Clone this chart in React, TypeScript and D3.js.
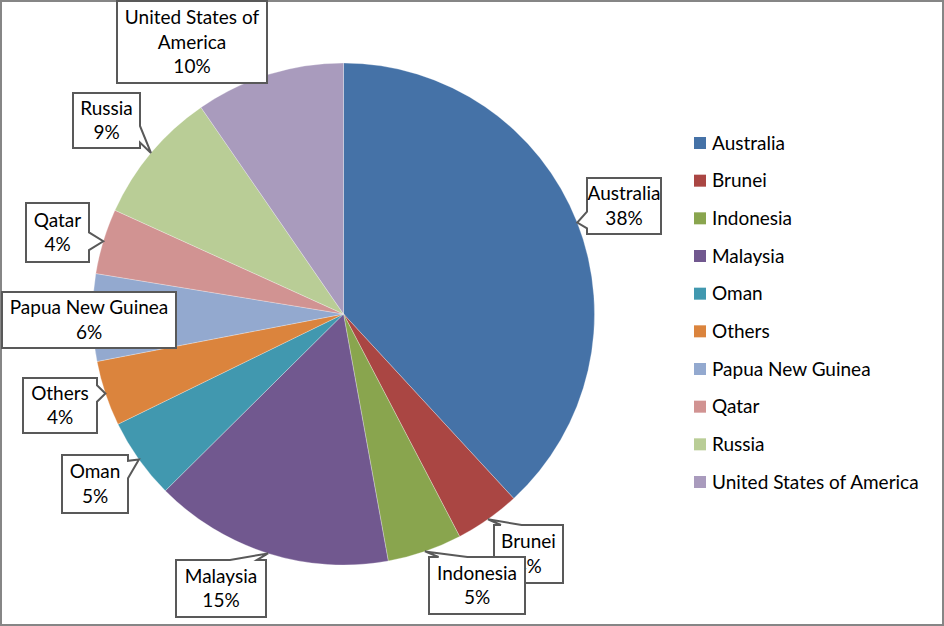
import React from "react";
import * as d3 from "d3";

const categories = [
  "Australia",
  "Brunei",
  "Indonesia",
  "Malaysia",
  "Oman",
  "Others",
  "Papua New Guinea",
  "Qatar",
  "Russia",
  "United States of America",
];
const shares = [38.1, 4.2, 4.8, 15.4, 5.2, 4.2, 5.6, 4.2, 8.6, 9.6];
const colors = [
  "#4572A7",
  "#AA4643",
  "#89A54E",
  "#71588F",
  "#4198AF",
  "#DB843D",
  "#93A9CF",
  "#D19392",
  "#B9CD96",
  "#A99BBD",
];
// label box layout [x, y, w, h]
const labelBoxes: [number, number, number, number][] = [
  [587, 178, 74, 56],
  [494, 525, 69, 58],
  [429, 557, 96, 57],
  [176, 560, 90, 57],
  [62, 455, 66, 58],
  [23, 378, 74, 55],
  [2, 292, 174, 56],
  [26, 203, 63, 59],
  [73, 93, 67, 55],
  [117, 1, 150, 82],
];

const W = 944;
const H = 626;
const CX = 343.5;
const CY = 314;
const R = 251;
const FONT = "Lato, 'Open Sans', sans-serif";
const FS = 19;
const LH = 24.5;

let ctx: CanvasRenderingContext2D | null = null;
function measure(s: string) {
  if (!ctx) {
    const c = document.createElement("canvas");
    ctx = c.getContext("2d");
  }
  if (!ctx) return s.length * FS * 0.5;
  ctx.font = `${FS}px Lato`;
  return ctx.measureText(s).width;
}
function wrap(s: string, maxW: number) {
  const words = s.split(" ");
  const lines: string[] = [];
  let cur = "";
  for (const w of words) {
    const t = cur ? cur + " " + w : w;
    if (cur && measure(t) > maxW) {
      lines.push(cur);
      cur = w;
    } else cur = t;
  }
  if (cur) lines.push(cur);
  return lines;
}

function calloutPath(b: [number, number, number, number], tx: number, ty: number) {
  const [x, y, w, h] = b;
  const x2 = x + w;
  const y2 = y + h;
  const inside = tx >= x - 2 && tx <= x2 + 2 && ty >= y - 2 && ty <= y2 + 2;
  if (inside) return `M${x},${y}H${x2}V${y2}H${x}Z`;
  const cx = x + w / 2;
  const cy = y + h / 2;
  const dx = (tx - cx) / (w / 2);
  const dy = (ty - cy) / (h / 2);
  const clamp = (v: number, lo: number, hi: number) => Math.max(lo, Math.min(hi, v));
  if (Math.abs(dx) > Math.abs(dy)) {
    const c = clamp(ty, y + 0.25 * h, y + 0.75 * h);
    const hw = 0.15 * h;
    if (dx > 0) {
      return `M${x},${y}H${x2}V${c - hw}L${tx},${ty}L${x2},${c + hw}V${y2}H${x}Z`;
    }
    return `M${x},${y}H${x2}V${y2}H${x}V${c + hw}L${tx},${ty}L${x},${c - hw}Z`;
  } else {
    const c = clamp(tx, x + 0.25 * w, x + 0.75 * w);
    const hw = 0.15 * w;
    if (dy < 0) {
      return `M${x},${y}H${c - hw}L${tx},${ty}L${c + hw},${y}H${x2}V${y2}H${x}Z`;
    }
    return `M${x},${y}H${x2}V${y2}H${c + hw}L${tx},${ty}L${c - hw},${y2}H${x}Z`;
  }
}

export default function App() {
  const total = d3.sum(shares);
  const pie = d3
    .pie<number>()
    .sort(null)
    .value((d) => d)
    .startAngle(0)
    .endAngle(2 * Math.PI);
  const arcs = pie(shares);
  const arc = d3.arc<d3.PieArcDatum<number>>().innerRadius(0).outerRadius(R);
  const fmt = d3.format(".0%");
  const legendY = d3
    .scalePoint<number>()
    .domain(d3.range(categories.length))
    .range([143, 482]);

  return (
    <svg
      width={W}
      height={H}
      style={{ position: "absolute", left: 0, top: 0, background: "#fff" }}
      fontFamily={FONT}
    >
      <rect x={1} y={1} width={W - 2} height={H - 2} fill="#fff" stroke="#868686" strokeWidth={2} />
      <g transform={`translate(${CX},${CY})`}>
        {arcs.map((a, i) => (
          <path
            key={i}
            d={arc(a) || ""}
            fill={colors[i]}
            stroke="#fff"
            strokeOpacity={0.35}
            strokeWidth={0.8}
          />
        ))}
      </g>
      {arcs.map((a, i) => {
        const mid = (a.startAngle + a.endAngle) / 2;
        const tx = CX + R * Math.sin(mid);
        const ty = CY - R * Math.cos(mid);
        const b = labelBoxes[i];
        const lines = [...wrap(categories[i], b[2] - 8), fmt(shares[i] / total)];
        const bcx = b[0] + b[2] / 2;
        const bcy = b[1] + b[3] / 2;
        const y0 = bcy - ((lines.length - 1) * LH) / 2 + 6.5;
        return (
          <g key={i}>
            <path
              d={calloutPath(b, tx, ty)}
              fill="#fff"
              stroke="#595959"
              strokeWidth={2}
              strokeLinejoin="miter"
            />
            {lines.map((l, j) => (
              <text
                key={j}
                x={bcx}
                y={y0 + j * LH}
                textAnchor="middle"
                fontSize={FS}
                fill="#000"
              >
                {l}
              </text>
            ))}
          </g>
        );
      })}
      <g>
        {categories.map((c, i) => (
          <g key={c} transform={`translate(694,${legendY(i)})`}>
            <rect x={0} y={-6} width={12} height={12} fill={colors[i]} />
            <text x={18} y={6.5} fontSize={FS} fill="#000">
              {c}
            </text>
          </g>
        ))}
      </g>
    </svg>
  );
}
